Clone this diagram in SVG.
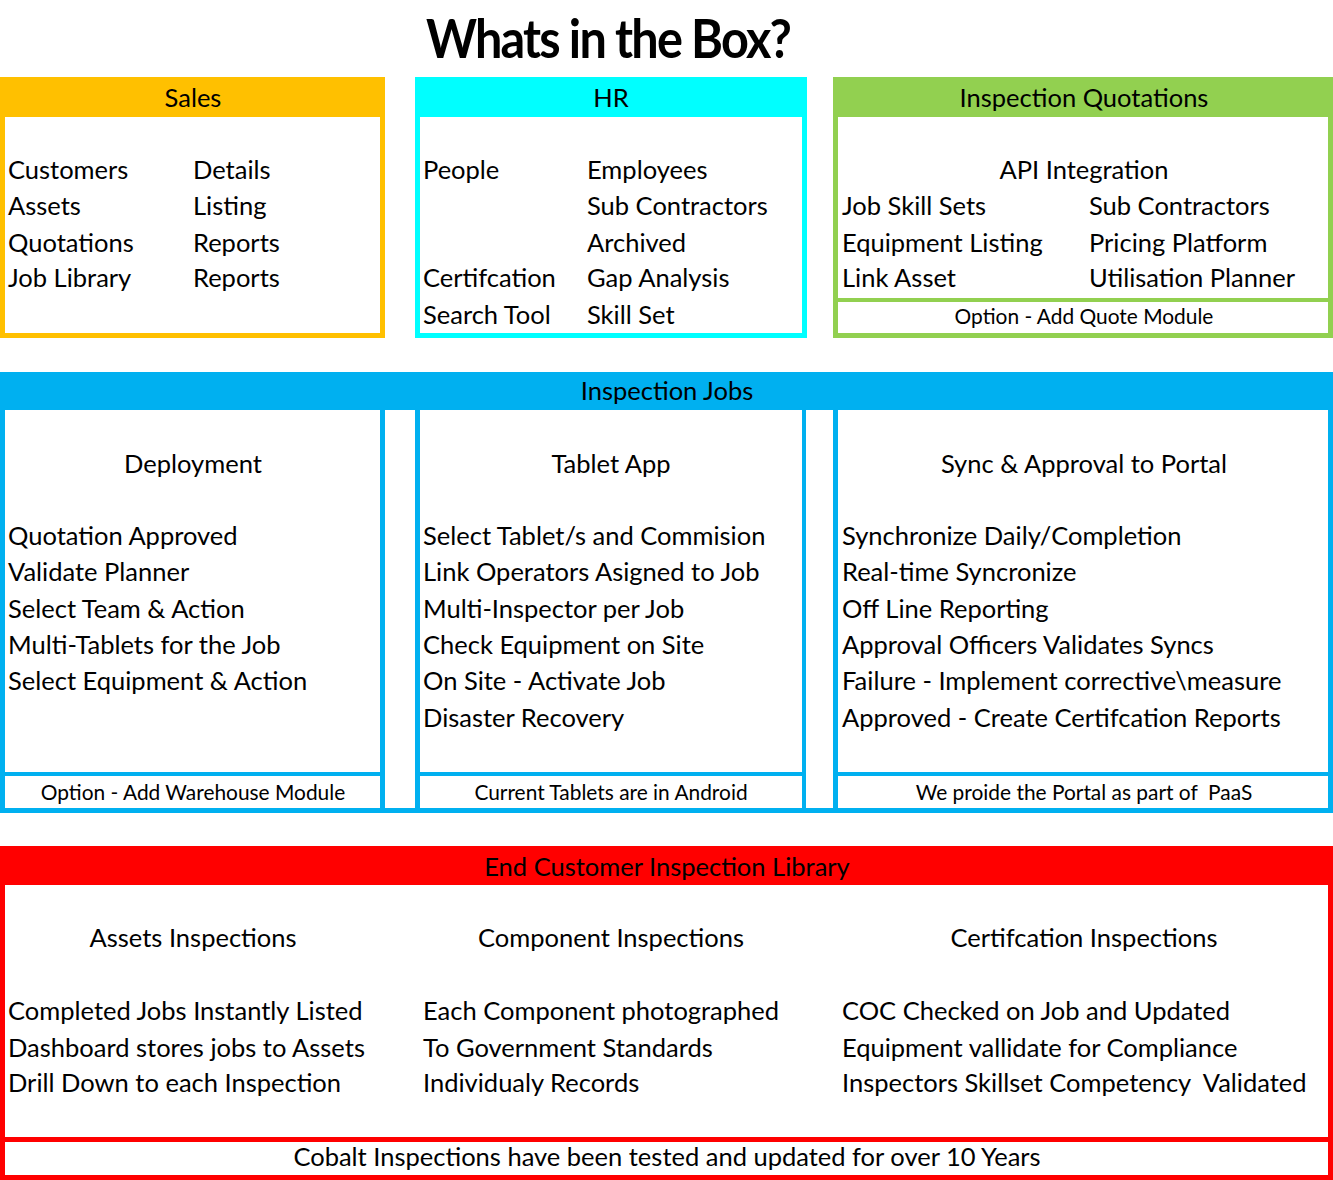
<svg xmlns="http://www.w3.org/2000/svg" width="1333" height="1180" viewBox="0 0 1333 1180">
<style>
text{font-family:Lato,"Open Sans",sans-serif;fill:#000}
.t{font-size:25.5px}
.s{font-size:20.9px}
.c{text-anchor:middle}
.title{font-size:54px;font-weight:700;letter-spacing:-2px}
.w{fill:#fff}
</style>
<rect width="1333" height="1180" fill="#fff"/>
<text class="title c" transform="translate(608,58) scale(0.9,1)" x="0" y="0">Whats in the Box?</text>

<g id="sales">
<rect x="0" y="77" width="385" height="261" fill="#FFC000"/>
<rect class="w" x="5" y="117" width="375" height="216"/>
<text class="t c" x="193" y="107">Sales</text>
<text class="t" x="8" y="179">Customers</text><text class="t" x="193" y="179">Details</text>
<text class="t" x="8" y="215">Assets</text><text class="t" x="193" y="215">Listing</text>
<text class="t" x="8" y="252">Quotations</text><text class="t" x="193" y="252">Reports</text>
<text class="t" x="8" y="287">Job Library</text><text class="t" x="193" y="287">Reports</text>
</g>

<g id="hr">
<rect x="415" y="77" width="392" height="261" fill="#00FFFF"/>
<rect class="w" x="420" y="117" width="382" height="216"/>
<text class="t c" x="611" y="107">HR</text>
<text class="t" x="423" y="179">People</text><text class="t" x="587" y="179">Employees</text>
<text class="t" x="587" y="215">Sub Contractors</text>
<text class="t" x="587" y="252">Archived</text>
<text class="t" x="423" y="287">Certifcation</text><text class="t" x="587" y="287">Gap Analysis</text>
<text class="t" x="423" y="324">Search Tool</text><text class="t" x="587" y="324">Skill Set</text>
</g>

<g id="quotations">
<rect x="833" y="77" width="500" height="261" fill="#92D050"/>
<rect class="w" x="838" y="117" width="490" height="181"/>
<rect class="w" x="838" y="302" width="490" height="31"/>
<text class="t c" x="1084" y="107">Inspection Quotations</text>
<text class="t c" x="1084" y="179">API Integration</text>
<text class="t" x="842" y="215">Job Skill Sets</text><text class="t" x="1089" y="215">Sub Contractors</text>
<text class="t" x="842" y="252">Equipment Listing</text><text class="t" x="1089" y="252">Pricing Platform</text>
<text class="t" x="842" y="287">Link Asset</text><text class="t" x="1089" y="287">Utilisation Planner</text>
<text class="s c" x="1084" y="324">Option - Add Quote Module</text>
</g>

<g id="jobs">
<rect x="0" y="372" width="1333" height="441" fill="#00B0F0"/>
<rect class="w" x="5" y="410" width="375" height="362"/>
<rect class="w" x="5" y="776" width="375" height="32"/>
<rect class="w" x="385" y="410" width="30" height="398"/>
<rect class="w" x="420" y="410" width="382" height="362"/>
<rect class="w" x="420" y="776" width="382" height="32"/>
<rect class="w" x="806" y="410" width="27" height="398"/>
<rect class="w" x="838" y="410" width="490" height="362"/>
<rect class="w" x="838" y="776" width="490" height="32"/>
<text class="t c" x="667" y="400">Inspection Jobs</text>
</g>

<g id="deployment">
<text class="t c" x="193" y="473">Deployment</text>
<text class="t" x="8" y="545">Quotation Approved</text>
<text class="t" x="8" y="581">Validate Planner</text>
<text class="t" x="8" y="618">Select Team &amp; Action</text>
<text class="t" x="8" y="654">Multi-Tablets for the Job</text>
<text class="t" x="8" y="690">Select Equipment &amp; Action</text>
<text class="s c" x="193" y="800">Option - Add Warehouse Module</text>
</g>

<g id="tablet">
<text class="t c" x="611" y="473">Tablet App</text>
<text class="t" x="423" y="545">Select Tablet/s and Commision</text>
<text class="t" x="423" y="581">Link Operators Asigned to Job</text>
<text class="t" x="423" y="618">Multi-Inspector per Job</text>
<text class="t" x="423" y="654">Check Equipment on Site</text>
<text class="t" x="423" y="690">On Site - Activate Job</text>
<text class="t" x="423" y="727">Disaster Recovery</text>
<text class="s c" x="611" y="800">Current Tablets are in Android</text>
</g>

<g id="sync">
<text class="t c" x="1084" y="473">Sync &amp; Approval to Portal</text>
<text class="t" x="842" y="545">Synchronize Daily/Completion</text>
<text class="t" x="842" y="581">Real-time Syncronize</text>
<text class="t" x="842" y="618">Off Line Reporting</text>
<text class="t" x="842" y="654">Approval Officers Validates Syncs</text>
<text class="t" x="842" y="690">Failure - Implement corrective\measure</text>
<text class="t" x="842" y="727">Approved - Create Certifcation Reports</text>
<text class="s c" x="1084" y="800" xml:space="preserve">We proide the Portal as part of  PaaS</text>
</g>

<g id="library">
<rect x="0" y="846" width="1333" height="334" fill="#FF0000"/>
<rect class="w" x="5" y="885" width="1323" height="252"/>
<rect class="w" x="5" y="1142" width="1323" height="33"/>
<text class="t c" x="667" y="876">End Customer Inspection Library</text>
<text class="t c" x="193" y="947">Assets Inspections</text>
<text class="t c" x="611" y="947">Component Inspections</text>
<text class="t c" x="1084" y="947">Certifcation Inspections</text>
<text class="t" x="8" y="1020">Completed Jobs Instantly Listed</text>
<text class="t" x="8" y="1057">Dashboard stores jobs to Assets</text>
<text class="t" x="8" y="1092">Drill Down to each Inspection</text>
<text class="t" x="423" y="1020">Each Component photographed</text>
<text class="t" x="423" y="1057">To Government Standards</text>
<text class="t" x="423" y="1092">Individualy Records</text>
<text class="t" x="842" y="1020">COC Checked on Job and Updated</text>
<text class="t" x="842" y="1057">Equipment vallidate for Compliance</text>
<text class="t" x="842" y="1092" xml:space="preserve">Inspectors Skillset Competency  Validated</text>
<text class="t c" x="667" y="1166">Cobalt Inspections have been tested and updated for over 10 Years</text>
</g>

<g id="connectors"></g>
</svg>
